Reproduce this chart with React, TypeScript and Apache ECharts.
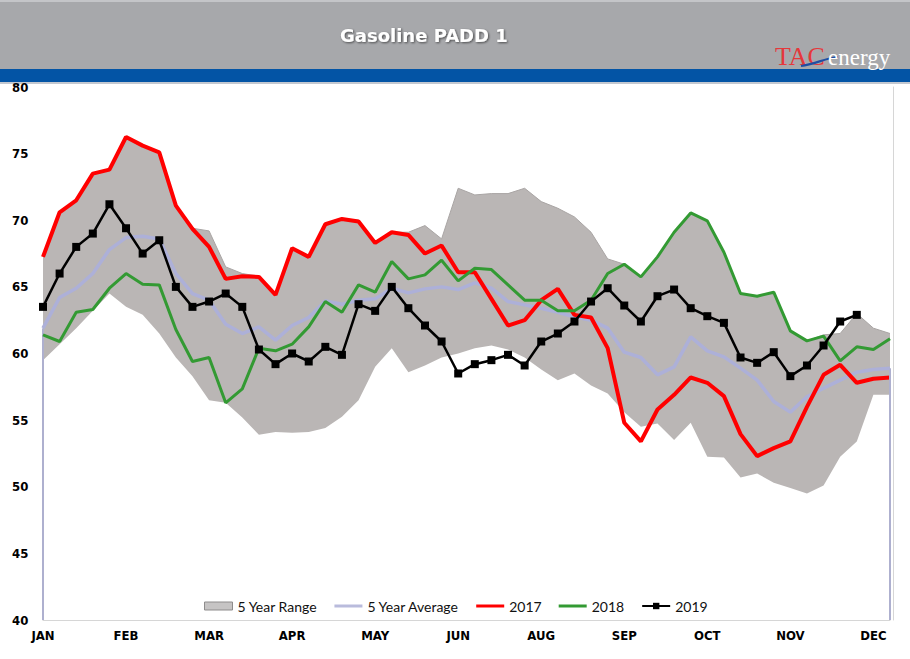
import React, { useEffect, useRef } from "react";
import * as echarts from "echarts";

const weeks = [
  "W1","W2","W3","W4","W5","W6","W7","W8","W9","W10","W11","W12","W13","W14","W15","W16","W17","W18","W19","W20","W21","W22","W23","W24","W25","W26",
  "W27","W28","W29","W30","W31","W32","W33","W34","W35","W36","W37","W38","W39","W40","W41","W42","W43","W44","W45","W46","W47","W48","W49","W50","W51","W52",
];
const monthTicks = ["JAN", "FEB", "MAR", "APR", "MAY", "JUN", "AUG", "SEP", "OCT", "NOV", "DEC"];
const yTicks = [40, 45, 50, 55, 60, 65, 70, 75, 80];

const rangeLow = [
  59.5, 60.7, 61.9, 63.2, 64.5, 63.5, 62.9, 61.5, 59.7, 58.3, 56.5, 56.3, 55.2, 53.9, 54.1, 54.05, 54.1, 54.4, 55.25, 56.5,
  59.0, 60.4, 58.6, 59.1, 59.7, 60.0, 60.4, 60.6, 60.3, 59.7, 58.8, 58.0, 58.5, 57.6, 57.0, 55.6, 54.5, 54.75, 53.5, 54.8,
  52.25, 52.2, 50.7, 51.0, 50.3, 49.9, 49.5, 50.1, 52.25, 53.4, 56.9, 56.9,
];
const rangeHigh = [
  67.3, 70.6, 71.5, 73.5, 73.8, 76.25, 75.6, 75.1, 71.2, 69.4, 69.2, 66.5, 66.0, 65.8, 64.5, 67.9, 67.3, 69.7, 70.1, 70.0,
  68.4, 69.1, 69.1, 69.6, 68.6, 72.4, 71.9, 72.0, 72.0, 72.4, 71.4, 70.9, 70.25, 69.1, 67.1, 66.7, 65.75, 67.25, 69.1, 70.55,
  69.95, 67.6, 64.5, 64.3, 64.6, 61.7, 60.95, 61.4, 61.5, 63.0, 61.9, 61.5,
];
const avg5 = [
  61.9, 64.2, 64.9, 66.0, 67.8, 68.7, 68.8, 68.6, 66.0, 64.5, 64.0, 62.2, 61.5, 62.0, 61.0, 62.1, 62.7, 63.95, 63.7, 64.0,
  64.1, 64.9, 64.55, 64.85, 65.0, 64.8, 65.3, 64.9, 63.9, 63.65, 63.4, 63.1, 62.75, 62.5, 61.9, 60.1, 59.7, 58.4, 59.0, 61.25,
  60.2, 59.75, 58.9, 58.0, 56.4, 55.6, 56.75, 57.4, 58.0, 58.6, 58.8, 58.9,
];
const y2017 = [
  67.25, 70.6, 71.5, 73.5, 73.8, 76.25, 75.6, 75.1, 71.1, 69.35, 68.0, 65.6, 65.8, 65.75, 64.4, 67.9, 67.25, 69.7, 70.1, 69.9,
  68.3, 69.1, 68.9, 67.5, 68.1, 66.1, 66.1, 64.1, 62.1, 62.5, 64.0, 64.85, 62.9, 62.7, 60.4, 54.8, 53.4, 55.8, 56.9, 58.2,
  57.8, 56.8, 53.95, 52.3, 52.9, 53.4, 56.0, 58.4, 59.15, 57.8, 58.1, 58.2,
];
const y2018 = [
  61.4, 60.9, 63.1, 63.3, 64.9, 66.0, 65.2, 65.15, 61.8, 59.4, 59.7, 56.3, 57.35, 60.4, 60.2, 60.7, 62.0, 63.9, 63.1, 65.15,
  64.6, 66.9, 65.6, 65.9, 67.0, 65.45, 66.4, 66.3, 65.15, 64.0, 64.0, 63.2, 63.2, 64.0, 66.0, 66.7, 65.75, 67.25, 69.1, 70.55,
  69.95, 67.6, 64.5, 64.3, 64.6, 61.7, 60.95, 61.3, 59.45, 60.5, 60.3, 61.1,
];
const y2019 = [
  63.5, 66.0, 68.0, 69.0, 71.2, 69.4, 67.5, 68.5, 65.0, 63.5, 63.9, 64.5, 63.5, 60.3, 59.2, 60.0, 59.4, 60.5, 59.9, 63.7,
  63.2, 65.0, 63.4, 62.1, 60.9, 58.5, 59.2, 59.5, 59.9, 59.1, 60.9, 61.5, 62.4, 63.9, 64.9, 63.6, 62.4, 64.3, 64.8, 63.4,
  62.8, 62.3, 59.7, 59.3, 60.1, 58.3, 59.1, 60.6, 62.4, 62.9,
];

const NARROW = "'Liberation Sans Narrow', 'Arial Narrow', 'DejaVu Sans Condensed', 'Liberation Sans', sans-serif";
const LINE_ICON = "path://M0,0 L28,0 L28,3 L0,3 Z";

export default function App() {
  const ref = useRef<HTMLDivElement>(null);
  useEffect(() => {
    document.body.style.margin = "0";
    const chart = echarts.init(ref.current!, null, { renderer: "svg" });
    const rangeSpan = rangeHigh.map((h, i) => +(h - rangeLow[i]).toFixed(2));
    const avgColor = "#adb0d8";
    const option = {
      animation: false,
      backgroundColor: "#ffffff",
      title: {
        text: "Gasoline PADD 1",
        left: 335,
        top: 21,
        textStyle: {
          color: "#ffffff",
          fontSize: 18,
          fontWeight: "bold",
          fontFamily: "'DejaVu Sans', 'Liberation Sans', sans-serif",
          textShadowColor: "rgba(0,0,0,0.55)",
          textShadowBlur: 2,
          textShadowOffsetX: 1,
          textShadowOffsetY: 1,
        },
      },
      graphic: [
        { type: "rect", z: -10, shape: { x: 0, y: 0, width: 910, height: 69 }, style: { fill: "#a7a8ab" } },
        { type: "rect", z: -9, shape: { x: 0, y: 0, width: 910, height: 2 }, style: { fill: "#c4c5c8" } },
        { type: "rect", z: -9, shape: { x: 0, y: 69, width: 910, height: 13 }, style: { fill: "#0354a5" } },
        { type: "rect", z: -9, shape: { x: 0, y: 82, width: 910, height: 2 }, style: { fill: "#c3c8d0" } },
        {
          type: "text",
          x: 775,
          y: 69,
          style: { text: "TAC", fill: "#e5373b", font: "26px 'Liberation Serif', 'DejaVu Serif', serif", verticalAlign: "bottom" },
        },
        {
          type: "bezierCurve",
          shape: { x1: 801, y1: 66, x2: 838, y2: 57, cpx1: 815, cpy1: 64, cpx2: 826, cpy2: 58 },
          style: { stroke: "#1f4ea3", lineWidth: 2.2, fill: "none" },
        },
        {
          type: "text",
          x: 828,
          y: 69,
          style: { text: "energy", fill: "#ffffff", font: "23px 'Liberation Serif', 'DejaVu Serif', serif", verticalAlign: "bottom" },
        },
      ],
      grid: { left: 43, right: 20, top: 87, bottom: 39, containLabel: false },
      legend: {
        left: 199,
        top: 594,
        itemWidth: 28,
        itemHeight: 8,
        itemGap: 17,
        textStyle: { fontFamily: "Lato, 'Open Sans', sans-serif", fontSize: 14, color: "#111" },
        data: [
          { name: "5 Year Range", icon: "rect", itemStyle: { color: "#c6c4c4", borderColor: "#8e8c8c", borderWidth: 1 } },
          { name: "5 Year Average", icon: LINE_ICON, itemStyle: { color: "#b9bbdc" } },
          { name: "2017", icon: LINE_ICON, itemStyle: { color: "#ff0000" } },
          { name: "2018", icon: LINE_ICON, itemStyle: { color: "#339a33" } },
          { name: "2019" },
        ],
      },
      xAxis: {
        type: "category",
        data: weeks,
        boundaryGap: false,
        axisLine: { show: true, lineStyle: { color: "#d6d6d6", width: 1 } },
        axisTick: { show: false },
        splitLine: { show: false },
        axisLabel: {
          interval: 4,
          margin: 9,
          color: "#000",
          fontFamily: NARROW,
          fontWeight: "bold",
          fontSize: 13,
          formatter: (_v: string, idx: number) => (idx % 5 === 0 ? monthTicks[idx / 5] ?? "" : ""),
        },
      },
      yAxis: [
        {
          type: "value",
          min: yTicks[0],
          max: yTicks[yTicks.length - 1],
          interval: 5,
          axisLine: { show: false },
          axisTick: { show: false },
          splitLine: { show: false },
          axisLabel: {
            align: "left",
            margin: 31,
            color: "#000",
            fontFamily: NARROW,
            fontWeight: "bold",
            fontSize: 13,
          },
        },
        {
          type: "value",
          position: "right",
          offset: 3,
          min: yTicks[0],
          max: yTicks[yTicks.length - 1],
          interval: 5,
          axisLine: { show: true, lineStyle: { color: "#d6d6d6", width: 1 } },
          axisTick: { show: false },
          axisLabel: { show: false },
          splitLine: { show: false },
        },
      ],
      series: [
        {
          name: "rangeBase",
          type: "line",
          stack: "range",
          data: rangeLow,
          symbol: "none",
          silent: true,
          lineStyle: { opacity: 0, width: 0 },
          areaStyle: { opacity: 0 },
          z: 1,
        },
        {
          name: "5 Year Range",
          type: "line",
          stack: "range",
          data: rangeSpan,
          symbol: "none",
          silent: true,
          itemStyle: { color: "#bab6b5" },
          lineStyle: { color: "#a9a5a4", width: 1 },
          areaStyle: { color: "#bab6b5", opacity: 1 },
          z: 2,
        },
        {
          name: "5 Year Average",
          type: "line",
          data: avg5,
          symbol: "none",
          itemStyle: { color: avgColor },
          lineStyle: { color: avgColor, width: 3.5 },
          z: 3,
          markLine: {
            silent: true,
            symbol: ["none", "none"],
            label: { show: false },
            lineStyle: { color: "#aeb0cf", width: 2, type: "solid" },
            data: [
              [{ coord: [weeks[0], yTicks[0]] }, { coord: [weeks[0], avg5[0]] }],
              [{ coord: [weeks[weeks.length - 1], yTicks[0]] }, { coord: [weeks[weeks.length - 1], avg5[avg5.length - 1]] }],
            ],
          },
        },
        {
          name: "2017",
          type: "line",
          data: y2017,
          symbol: "none",
          itemStyle: { color: "#ff0000" },
          lineStyle: { color: "#ff0000", width: 4 },
          z: 4,
        },
        {
          name: "2018",
          type: "line",
          data: y2018,
          symbol: "none",
          itemStyle: { color: "#339a33" },
          lineStyle: { color: "#339a33", width: 3 },
          z: 5,
        },
        {
          name: "2019",
          type: "line",
          data: y2019,
          symbol: "rect",
          symbolSize: 8,
          showAllSymbol: true,
          itemStyle: { color: "#000000" },
          lineStyle: { color: "#000000", width: 2.5 },
          z: 6,
        },
      ],
    };
    chart.setOption(option as any);
    return () => chart.dispose();
  }, []);
  return <div ref={ref} style={{ width: 910, height: 659, position: "absolute", left: 0, top: 0 }} />;
}
